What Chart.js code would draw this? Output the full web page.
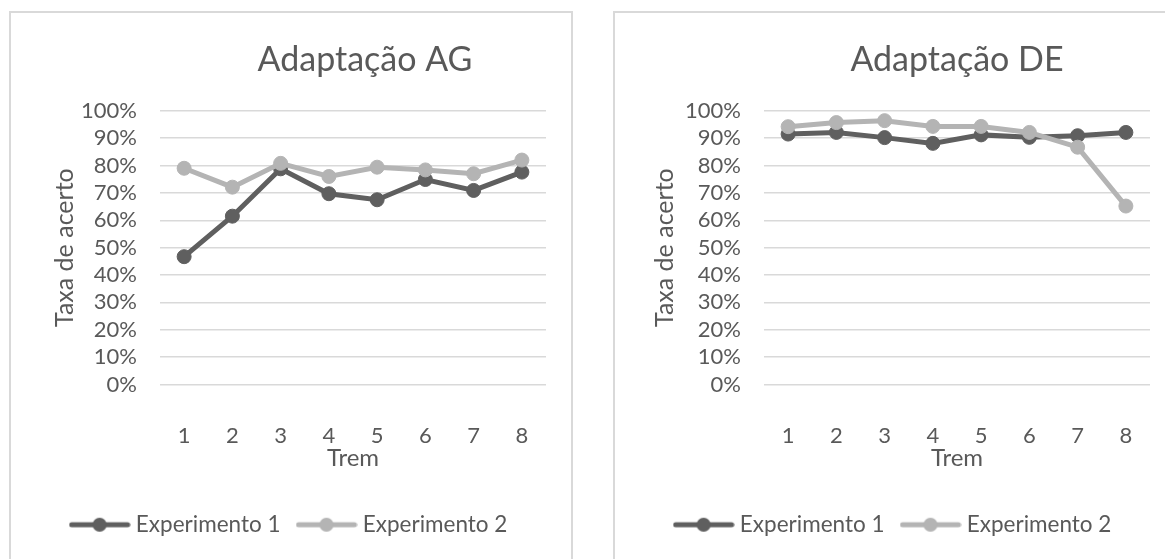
<!DOCTYPE html>
<html lang="pt">
<head>
<meta charset="UTF-8">
<title>Adaptação AG / DE</title>
<script src="https://cdn.jsdelivr.net/npm/chart.js"></script>
<style>
  html, body { margin: 0; padding: 0; background: #fff; }
  body { width: 1165px; height: 559px; overflow: hidden; position: relative; }
  .box { position: absolute; top: 11px; width: 560px; height: 580px; border: 2px solid #d9d9d9; background: #fff; }
  .box canvas { display: block; width: 560px; height: 546px; }
  #boxAG { left: 9px; }
  #boxDE { left: 613px; }
</style>
</head>
<body>
<div class="box" id="boxAG"><canvas id="chartAG" width="560" height="546"></canvas></div>
<div class="box" id="boxDE"><canvas id="chartDE" width="560" height="546"></canvas></div>

<script>
// dados (taxa de acerto em %)
const trens = ['1', '2', '3', '4', '5', '6', '7', '8'];
const agExp1 = [46.7, 61.5, 78.8, 69.7, 67.5, 74.9, 70.9, 77.6];
const agExp2 = [79.0, 72.1, 80.8, 76.0, 79.4, 78.4, 77.0, 82.0];
const deExp1 = [91.5, 92.1, 90.2, 88.1, 91.2, 90.3, 90.9, 92.1];
const deExp2 = [94.2, 95.7, 96.4, 94.3, 94.3, 92.1, 86.7, 65.2];
const nomes = ['Experimento 1', 'Experimento 2'];

const corEscura = '#5f5f5f';
const corClara = '#b4b4b4';
const corTexto = '#595959';
const fonte = 'Lato, "Open Sans", sans-serif';

// marcador da legenda: linha com um círculo no meio
function marcador(cor) {
    const c = document.createElement('canvas');
    c.width = 62; c.height = 16;
    const ctx = c.getContext('2d');
    ctx.strokeStyle = cor;
    ctx.lineWidth = 5;
    ctx.lineCap = 'round';
    ctx.beginPath();
    ctx.moveTo(3, 8); ctx.lineTo(59, 8);
    ctx.stroke();
    ctx.fillStyle = cor;
    ctx.beginPath();
    ctx.arc(31, 8, 7, 0, Math.PI * 2);
    ctx.fill();
    return c;
}
const marcadores = [marcador(corEscura), marcador(corClara)];

// desloca o título na horizontal (no original não está centrado)
const deslocaTitulo = {
    id: 'deslocaTitulo',
    afterLayout(chart, args, opts) {
        if (chart.titleBlock && opts.dx) {
            chart.titleBlock.left += opts.dx;
            chart.titleBlock.right += opts.dx;
        }
    }
};

function criarGrafico(id, titulo, serie1, serie2, dx, tituloY) {
    const ctx = document.getElementById(id).getContext('2d');
    return new Chart(ctx, {
        type: 'line',
        data: {
            labels: trens,
            datasets: [{
                label: nomes[0],
                data: serie1,
                borderColor: corEscura,
                backgroundColor: corEscura,
                pointBackgroundColor: corEscura,
                borderWidth: 5,
                pointRadius: 7,
                pointBorderWidth: 1,
                tension: 0,
                order: 1
            }, {
                label: nomes[1],
                data: serie2,
                borderColor: corClara,
                backgroundColor: corClara,
                pointBackgroundColor: corClara,
                borderWidth: 5,
                pointRadius: 7,
                pointBorderWidth: 1,
                tension: 0,
                order: 0
            }]
        },
        plugins: [deslocaTitulo],
        options: {
            responsive: false,
            animation: false,
            layout: { padding: { left: 25, right: 25, top: 0, bottom: 13 } },
            plugins: {
                deslocaTitulo: { dx: dx },
                tooltip: { enabled: false },
                title: {
                    display: true,
                    text: titulo,
                    fullSize: false,
                    color: corTexto,
                    font: { family: fonte, size: 34, weight: 'normal' },
                    padding: { top: 27, bottom: 30 }
                },
                legend: {
                    position: 'bottom',
                    labels: {
                        color: corTexto,
                        font: { family: fonte, size: 22.5 },
                        usePointStyle: true,
                        pointStyleWidth: 50,
                        padding: 21,
                        sort: (a, b) => a.datasetIndex - b.datasetIndex,
                        generateLabels: (chart) => {
                            const itens = Chart.defaults.plugins.legend.labels.generateLabels(chart);
                            itens.forEach(it => { it.pointStyle = marcadores[it.datasetIndex]; });
                            return itens;
                        }
                    }
                }
            },
            scales: {
                x: {
                    offset: true,
                    grid: { display: false },
                    border: { display: false },
                    ticks: { color: corTexto, font: { family: fonte, size: 22 }, padding: 30 },
                    title: {
                        display: true,
                        text: 'Trem',
                        color: corTexto,
                        font: { family: fonte, size: 24 },
                        padding: { top: 0, bottom: 20 }
                    },
                    afterFit: (s) => { s.height = 108; }
                },
                y: {
                    min: 0,
                    max: 100,
                    ticks: {
                        stepSize: 10,
                        autoSkip: false,
                        color: corTexto,
                        font: { family: fonte, size: 22 },
                        padding: 23,
                        callback: (v) => v + '%'
                    },
                    grid: { color: '#d9d9d9', lineWidth: 1.5, drawTicks: false },
                    border: { display: false },
                    title: {
                        display: true,
                        text: 'Taxa de acerto',
                        color: corTexto,
                        font: { family: fonte, size: 25 },
                        padding: { top: tituloY, bottom: 0 }
                    },
                    afterFit: (s) => { s.width = 124; }
                }
            }
        }
    });
}

criarGrafico('chartAG', 'Adaptação AG', agExp1, agExp2, 12, 14);
criarGrafico('chartDE', 'Adaptação DE', deExp1, deExp2, 0, 10);
</script>
</body>
</html>
